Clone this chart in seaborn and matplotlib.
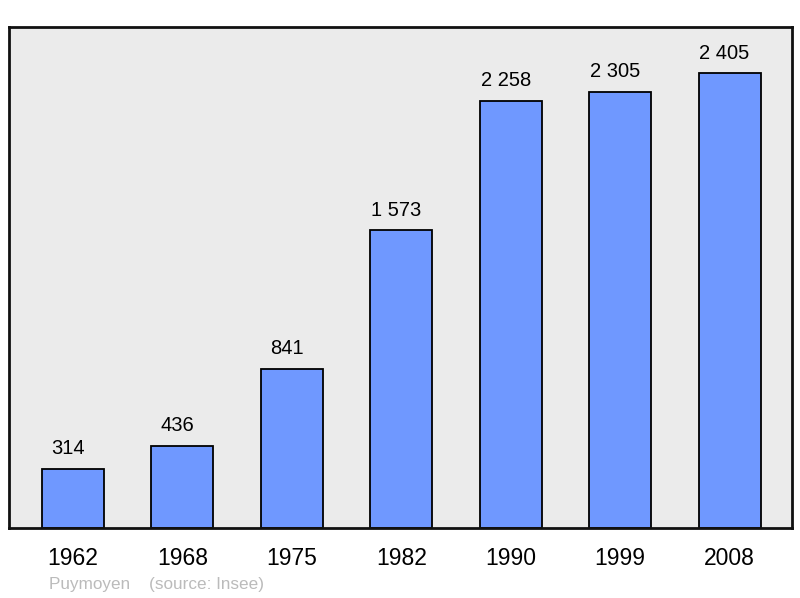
import matplotlib
matplotlib.use("Agg")
import matplotlib.pyplot as plt
import seaborn as sns
import pandas as pd
from matplotlib.transforms import offset_copy

years = ["1962", "1968", "1975", "1982", "1990", "1999", "2008"]
population = [314, 436, 841, 1573, 2258, 2305, 2405]
value_labels = ["314", "436", "841", "1 573", "2 258", "2 305", "2 405"]
source_text = "Puymoyen    (source: Insee)"

sns.set_theme(style="white")
plt.rcParams['font.family'] = ['Liberation Sans', 'DejaVu Sans']

df = pd.DataFrame({"year": years, "pop": population})

fig = plt.figure(figsize=(8, 5.98), dpi=100)
ax = fig.add_axes([9/800, 70/598, 783/800, 501/598])
ax.set_facecolor("#ebebeb")

sns.barplot(data=df, x="year", y="pop", color="#6f98ff", saturation=1,
            width=0.567, edgecolor="black", linewidth=1.3, ax=ax)

tr = offset_copy(ax.transData, fig=fig, x=-5, y=0, units="dots")
for i, (v, lab) in enumerate(zip(population, value_labels)):
    ax.text(i, v + 55, lab, ha="center", va="bottom", fontsize=14.5,
            color="black", transform=tr)

ax.set_xlim(-0.585, 6.57)
ax.set_ylim(0, 2648)
ax.set_yticks([])
ax.set_xlabel("")
ax.set_ylabel("")
ax.tick_params(axis="x", length=0, pad=14, labelsize=16.5, colors="black")
for s in ax.spines.values():
    s.set_visible(True)
    s.set_color("#111111")
    s.set_linewidth(2)

fig.text(49/800, 1 - 584/598, source_text, fontsize=12.3, color="#bbbbbb",
         ha="left", va="center")

fig.savefig("out.png", dpi=100, facecolor="white")
